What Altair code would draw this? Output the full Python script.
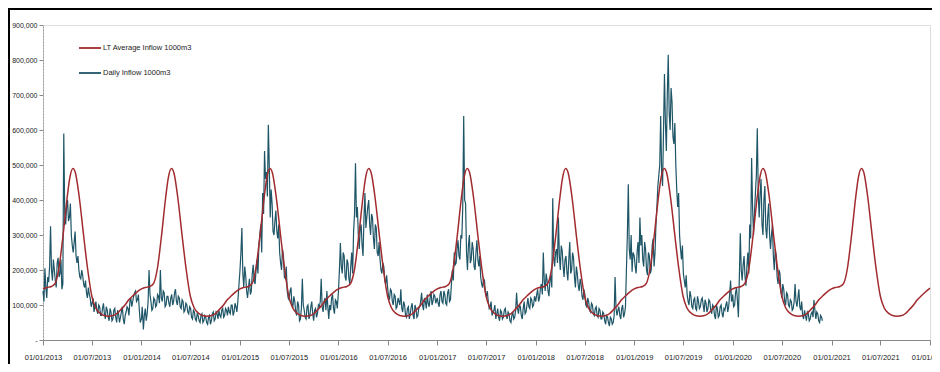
import altair as alt
import pandas as pd

LT_LABEL = "LT Average Inflow 1000m3"
DAILY_LABEL = "Daily Inflow 1000m3"
RED = "#A12B2E"
TEAL = "#1E5567"
FONT = "'Liberation Sans', Arial, sans-serif"

# Long-term average annual profile (1000 x 1000m3), repeated every year
LT_MONTH_DAYS = ["01-01", "01-15", "02-01", "02-15", "03-01", "03-15", "04-01", "04-10",
                 "04-22", "05-01", "05-15", "06-01", "06-15", "07-01", "07-15", "08-01",
                 "08-15", "09-01", "09-15", "10-01", "10-15", "11-01", "11-15", "12-01", "12-15"]
LT_PROFILE_K = [146, 150, 153, 162, 205, 290, 410, 462,
                490, 478, 410, 295, 205, 125, 92, 76,
                70, 68, 69, 75, 86, 100, 115, 127, 137]
LT_YEARS = list(range(2013, 2022))
LT_END_DATE = "2022-01-01"
LT_END_K = 148

DAILY_2013_K = [140, 205, 120, 165, 325, 170, 200, 150, 235, 190, 145, 590, 330, 400, 350, 300,
                250, 310, 220, 200, 175, 185, 150, 135, 150, 120, 105, 80, 110, 75, 95, 70,
                105, 60, 85, 55, 80, 60, 90, 50, 75, 65, 95, 45, 80, 90, 110, 95,
                125, 140, 115, 85, 60]
DAILY_2014_K = [60, 30, 90, 75, 200, 110, 90, 115, 100, 125, 200, 110, 135, 100, 125, 95,
                130, 110, 145, 100, 120, 90, 110, 85, 100, 75, 90, 60, 80, 55, 70, 50,
                75, 55, 65, 45, 70, 55, 80, 60, 75, 85, 65, 90, 70, 85, 95, 75,
                100, 80, 95, 110]
DAILY_2015_K = [200, 320, 150, 185, 120, 175, 140, 215, 160, 230, 270, 330, 420, 540, 480, 615,
                350, 390, 300, 370, 290, 250, 200, 240, 175, 140, 115, 150, 95, 110, 70, 100,
                60, 175, 85, 60, 100, 70, 110, 55, 90, 75, 95, 175, 80, 120, 140, 60,
                85, 130, 75, 110]
DAILY_2016_K = [140, 277, 190, 240, 170, 220, 160, 250, 310, 505, 380, 260, 330, 240, 420, 350,
                400, 300, 350, 260, 320, 240, 230, 190, 210, 160, 150, 115, 140, 100, 125, 95,
                110, 145, 80, 100, 65, 95, 75, 105, 60, 90, 70, 95, 135, 85, 110, 130,
                95, 140, 110, 125]
DAILY_2017_K = [120, 95, 140, 105, 130, 100, 145, 115, 200, 250, 220, 285, 230, 290, 640, 390,
                200, 300, 230, 260, 200, 285, 210, 180, 150, 170, 125, 110, 95, 70, 85, 60,
                90, 55, 80, 65, 90, 60, 75, 50, 80, 65, 135, 75, 95, 60, 110, 80,
                120, 90, 115, 100]
DAILY_2018_K = [110, 145, 120, 160, 250, 140, 170, 125, 185, 405, 210, 260, 350, 200, 255, 180,
                240, 170, 280, 200, 235, 150, 190, 140, 160, 115, 130, 95, 110, 80, 100, 70,
                95, 65, 85, 60, 75, 45, 65, 40, 60, 50, 180, 70, 95, 60, 100, 75,
                200, 445, 230, 195]
DAILY_2019_K = [240, 190, 280, 350, 300, 210, 260, 185, 240, 200, 290, 250, 380, 470, 640, 440,
                760, 540, 815, 600, 680, 560, 500, 380, 300, 230, 190, 150, 130, 100, 125, 90,
                120, 85, 110, 95, 120, 80, 105, 90, 110, 75, 95, 60, 90, 70, 100, 65,
                85, 110, 95, 170, 120]
DAILY_2020_K = [130, 100, 150, 65, 305, 170, 240, 155, 250, 330, 520, 300, 420, 605, 350, 460,
                300, 440, 290, 390, 260, 330, 200, 240, 160, 190, 120, 145, 100, 130, 95, 110,
                90, 160, 95, 145, 85, 70, 85, 55, 75, 60, 80, 114, 60, 75, 50, 65]

# ... and at the mid-week points in between
MID_2013_K = [110, 150, 180, 210, 200, 230, 170, 220, 180, 230, 160, 360, 380, 340, 390, 270,
              280, 240, 240, 180, 200, 160, 170, 120, 130, 95, 120, 95, 85, 100, 70, 90,
              75, 95, 65, 90, 55, 85, 65, 85, 50, 80, 60, 70, 95, 70, 120, 110,
              135, 110, 130, 50, 95]
MID_2014_K = [85, 70, 55, 110, 130, 85, 120, 95, 130, 105, 120, 140, 95, 125, 105, 120,
              100, 135, 110, 125, 95, 115, 80, 105, 80, 95, 65, 85, 60, 75, 55, 70,
              50, 70, 50, 65, 45, 75, 55, 80, 60, 70, 85, 65, 90, 70, 80, 100,
              70, 105, 80, 150]
MID_2015_K = [250, 190, 210, 140, 150, 130, 190, 170, 200, 190, 300, 250, 360, 460, 410, 500,
              430, 310, 340, 310, 330, 220, 260, 180, 210, 120, 140, 100, 125, 80, 110, 55,
              90, 100, 65, 95, 60, 95, 75, 85, 65, 100, 110, 95, 110, 85, 95, 100,
              120, 90, 115, 90]
MID_2016_K = [200, 210, 250, 180, 230, 175, 210, 190, 360, 350, 300, 320, 270, 350, 320, 380,
              330, 360, 290, 330, 250, 280, 200, 220, 170, 185, 125, 145, 110, 130, 90, 120,
              100, 90, 110, 70, 90, 60, 95, 70, 100, 65, 90, 110, 100, 120, 90, 105,
              120, 100, 130, 105]
MID_2017_K = [105, 130, 110, 140, 105, 135, 110, 160, 170, 215, 260, 240, 300, 380, 400, 250,
              270, 220, 280, 210, 250, 230, 240, 160, 175, 135, 140, 90, 110, 80, 100, 75,
              65, 85, 60, 85, 70, 80, 55, 70, 60, 85, 90, 100, 70, 90, 75, 100,
              95, 120, 95, 125]
MID_2018_K = [130, 110, 150, 130, 170, 190, 140, 170, 150, 240, 250, 220, 240, 270, 210, 230,
              195, 230, 190, 250, 180, 210, 155, 175, 125, 145, 100, 120, 85, 105, 75, 90,
              70, 90, 60, 80, 55, 70, 50, 65, 45, 70, 90, 85, 70, 90, 65, 95,
              300, 260, 300, 250]
MID_2019_K = [210, 250, 220, 270, 230, 280, 200, 250, 190, 270, 210, 330, 440, 500, 480, 600,
              620, 700, 650, 720, 580, 620, 430, 420, 260, 270, 170, 185, 110, 140, 95, 115,
              90, 125, 90, 115, 100, 115, 80, 115, 85, 100, 70, 100, 65, 95, 75, 90,
              100, 80, 130, 110, 100]
MID_2020_K = [95, 135, 110, 180, 200, 215, 180, 210, 190, 290, 380, 360, 470, 420, 420, 330,
              400, 320, 350, 300, 300, 240, 260, 180, 200, 140, 160, 110, 135, 100, 115, 85,
              110, 110, 120, 95, 110, 60, 70, 80, 55, 75, 65, 85, 80, 55, 70, 55]

DAILY_BY_YEAR = {2013: (DAILY_2013_K, MID_2013_K), 2014: (DAILY_2014_K, MID_2014_K),
                 2015: (DAILY_2015_K, MID_2015_K), 2016: (DAILY_2016_K, MID_2016_K),
                 2017: (DAILY_2017_K, MID_2017_K), 2018: (DAILY_2018_K, MID_2018_K),
                 2019: (DAILY_2019_K, MID_2019_K), 2020: (DAILY_2020_K, MID_2020_K)}

X_TICK_YEARS = list(range(2013, 2022))

# ---- build tables ----
rows = []
for yr, (vals, mids) in DAILY_BY_YEAR.items():
    dates = pd.date_range(f"{yr}-01-01", periods=len(vals), freq="7D")
    for d, v in zip(dates, vals):
        rows.append({"date": d, "value": v * 1000, "series": DAILY_LABEL})
    for d, v in zip(dates, mids):
        rows.append({"date": d + pd.Timedelta(hours=84), "value": v * 1000, "series": DAILY_LABEL})
daily_df = pd.DataFrame(rows).sort_values("date")
daily_df["date"] = daily_df["date"].dt.strftime("%Y-%m-%dT%H:%M:%S")

rows = []
for yr in LT_YEARS:
    for md, v in zip(LT_MONTH_DAYS, LT_PROFILE_K):
        rows.append({"date": f"{yr}-{md}T00:00:00", "value": v * 1000, "series": LT_LABEL})
rows.append({"date": LT_END_DATE + "T00:00:00", "value": LT_END_K * 1000, "series": LT_LABEL})
lt_df = pd.DataFrame(rows)

tick_values = []
for y in X_TICK_YEARS:
    tick_values.append(alt.DateTime(year=y, month=1, date=1))
    tick_values.append(alt.DateTime(year=y, month=7, date=1))
tick_values.append(alt.DateTime(year=2022, month=1, date=1))

x_enc = alt.X(
    "date:T",
    title=None,
    scale=alt.Scale(domain=[alt.DateTime(year=2013, month=1, date=1),
                            alt.DateTime(year=2022, month=1, date=1)]),
    axis=alt.Axis(values=tick_values, format="%d/%m/%Y", labelFont=FONT, labelFontSize=7.5,
                  labelColor="#222", tickColor="#888", tickSize=5, domainColor="#888",
                  labelPadding=8, grid=False, labelOverlap=False, labelFlush=False),
)
y_enc = alt.Y(
    "value:Q",
    title=None,
    scale=alt.Scale(domain=[0, 900000], nice=False),
    axis=alt.Axis(values=list(range(0, 900001, 100000)),
                  labelExpr="datum.value == 0 ? '-' : format(datum.value, ',')",
                  labelFont=FONT, labelFontSize=7, labelColor="#222", tickColor="#888",
                  tickSize=4, labelPadding=2, domainColor="#999", domainDash=[2, 1], grid=False),
)
color_enc = alt.Color(
    "series:N",
    scale=alt.Scale(domain=[LT_LABEL, DAILY_LABEL], range=[RED, TEAL]),
    legend=alt.Legend(title=None, orient="none", legendX=35, legendY=11, direction="vertical",
                      symbolType="stroke", symbolSize=484, symbolStrokeWidth=1.8,
                      labelFont=FONT, labelFontSize=7.5, labelColor="#222", labelOffset=1,
                      rowPadding=9),
)

daily = alt.Chart(daily_df).mark_line(strokeWidth=1.2).encode(x=x_enc, y=y_enc, color=color_enc)
lt = alt.Chart(lt_df).mark_line(strokeWidth=1.5, interpolate="monotone").encode(
    x=x_enc, y=y_enc, color=color_enc)

frame_df = pd.DataFrame({"k": [0]})
left_frame = alt.Chart(frame_df).mark_rule(color="black", strokeWidth=2).encode(
    x=alt.value(-34), y=alt.value(-17), y2=alt.value(340))
top_frame = alt.Chart(frame_df).mark_rule(color="black", strokeWidth=2).encode(
    x=alt.value(-35), x2=alt.value(890), y=alt.value(-16))

chart = alt.layer(daily, lt, left_frame, top_frame).properties(
    width=887, height=315,
    autosize=alt.AutoSizeParams(type="none"),
    padding={"left": 35, "top": 17, "right": 2, "bottom": 24},
).configure_view(stroke="#a8a8a8", strokeWidth=1).configure(background="white")

chart.save("out.html", embed_options={"renderer": "svg", "actions": False})
